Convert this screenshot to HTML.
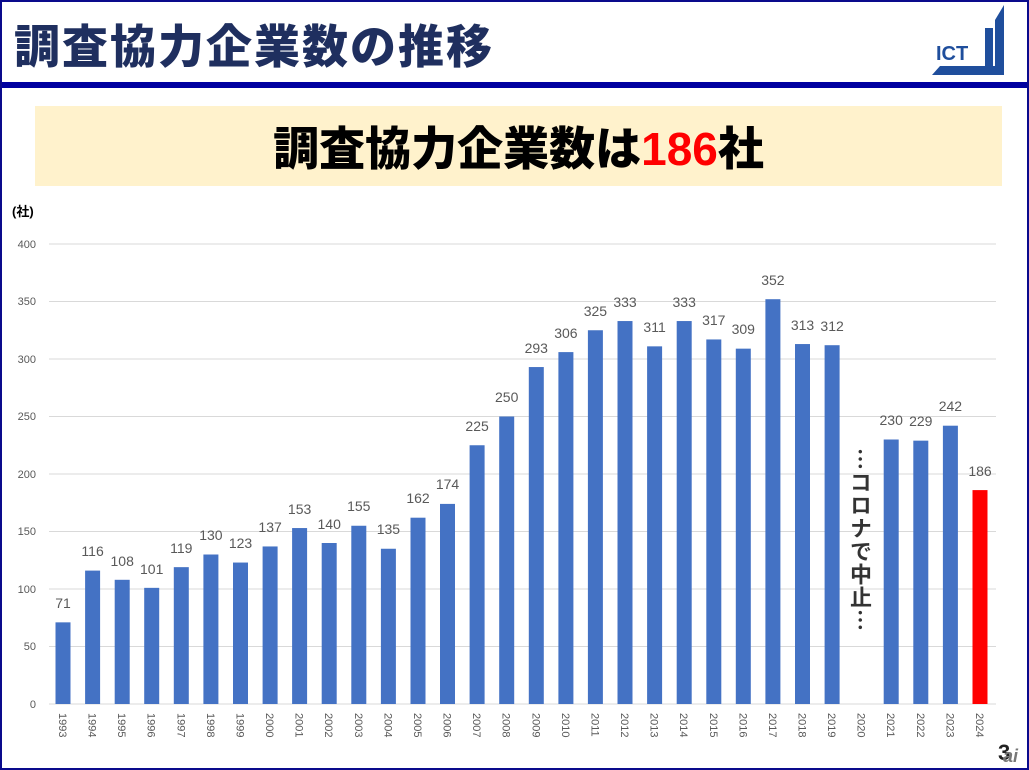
<!DOCTYPE html>
<html><head><meta charset="utf-8"><style>
html,body{margin:0;padding:0;background:#fff}
body{width:1029px;height:770px;position:relative;overflow:hidden;font-family:"Liberation Sans","Noto Sans CJK JP",sans-serif}
.frame{position:absolute;left:0;top:0;width:1025px;height:766px;border:2px solid #0a0a8c}
.title{position:absolute;left:14px;top:12px;font-size:46px;font-weight:900;color:#1f2f5f;letter-spacing:2px;font-family:"Noto Sans CJK JP",sans-serif;line-height:64px}
.rule{position:absolute;left:2px;top:82px;width:1025px;height:6px;background:#0000a0}
.banner{position:absolute;left:35px;top:106px;width:967px;height:80px;background:#fff2cc;text-align:center;line-height:80px;font-size:46px;font-weight:900;color:#000;font-family:"Noto Sans CJK JP",sans-serif}
.banner span{color:#ff0000;font-family:"Liberation Sans",sans-serif;font-weight:bold}
svg{position:absolute;left:0;top:0}
</style></head><body>
<div class="frame"></div>
<div class="title">調査協力企業数の推移</div>
<div class="rule"></div>
<div class="banner">調査協力企業数は<span>186</span>社</div>
<svg width="1029" height="770" font-family="Liberation Sans, Noto Sans CJK JP, sans-serif">
<polygon points="1004,5 1004,75 932,75 940,66 995,66 995,20" fill="#1f4e9c"/>
<rect x="985" y="28" width="8" height="38" fill="#1f4e9c"/>
<text x="936" y="60" font-size="20" font-weight="bold" fill="#1f4e9c">ICT</text>
<text x="12" y="216" font-size="13" font-weight="bold" fill="#000">(社)</text>
<g stroke="#d9d9d9" stroke-width="1">
<line x1="49" x2="996" y1="244" y2="244"/><line x1="49" x2="996" y1="301.5" y2="301.5"/><line x1="49" x2="996" y1="359" y2="359"/><line x1="49" x2="996" y1="416.5" y2="416.5"/><line x1="49" x2="996" y1="474" y2="474"/><line x1="49" x2="996" y1="531.5" y2="531.5"/><line x1="49" x2="996" y1="589" y2="589"/><line x1="49" x2="996" y1="646.5" y2="646.5"/><line x1="49" x2="996" y1="704" y2="704"/>
</g>
<g font-size="11" fill="#595959" text-anchor="end">
<text x="36" y="248">400</text><text x="36" y="305">350</text><text x="36" y="363">300</text><text x="36" y="420">250</text><text x="36" y="478">200</text><text x="36" y="535">150</text><text x="36" y="593">100</text><text x="36" y="650">50</text><text x="36" y="708">0</text>
</g>
<g fill="#4472c4">
<rect x="55.5" y="622.35" width="15" height="81.65"/>
<rect x="85.1" y="570.6" width="15" height="133.4"/>
<rect x="114.7" y="579.8" width="15" height="124.2"/>
<rect x="144.2" y="587.85" width="15" height="116.15"/>
<rect x="173.8" y="567.15" width="15" height="136.85"/>
<rect x="203.4" y="554.5" width="15" height="149.5"/>
<rect x="233" y="562.55" width="15" height="141.45"/>
<rect x="262.6" y="546.45" width="15" height="157.55"/>
<rect x="292.1" y="528.05" width="15" height="175.95"/>
<rect x="321.7" y="543" width="15" height="161"/>
<rect x="351.3" y="525.75" width="15" height="178.25"/>
<rect x="380.9" y="548.75" width="15" height="155.25"/>
<rect x="410.5" y="517.7" width="15" height="186.3"/>
<rect x="440" y="503.9" width="15" height="200.1"/>
<rect x="469.6" y="445.25" width="15" height="258.75"/>
<rect x="499.2" y="416.5" width="15" height="287.5"/>
<rect x="528.8" y="367.05" width="15" height="336.95"/>
<rect x="558.4" y="352.1" width="15" height="351.9"/>
<rect x="587.9" y="330.25" width="15" height="373.75"/>
<rect x="617.5" y="321.05" width="15" height="382.95"/>
<rect x="647.1" y="346.35" width="15" height="357.65"/>
<rect x="676.7" y="321.05" width="15" height="382.95"/>
<rect x="706.3" y="339.45" width="15" height="364.55"/>
<rect x="735.8" y="348.65" width="15" height="355.35"/>
<rect x="765.4" y="299.2" width="15" height="404.8"/>
<rect x="795" y="344.05" width="15" height="359.95"/>
<rect x="824.6" y="345.2" width="15" height="358.8"/>
<rect x="883.7" y="439.5" width="15" height="264.5"/>
<rect x="913.3" y="440.65" width="15" height="263.35"/>
<rect x="942.9" y="425.7" width="15" height="278.3"/>
</g>
<rect x="972.5" y="490.1" width="15" height="213.9" fill="#ff0000"/>
<g font-size="14" fill="#595959" text-anchor="middle">
<text x="63" y="608">71</text><text x="92.6" y="556">116</text><text x="122.2" y="566">108</text><text x="151.7" y="574">101</text><text x="181.3" y="553">119</text><text x="210.9" y="540">130</text><text x="240.5" y="548">123</text><text x="270.1" y="532">137</text><text x="299.6" y="514">153</text><text x="329.2" y="529">140</text><text x="358.8" y="511">155</text><text x="388.4" y="534">135</text><text x="418" y="503">162</text><text x="447.5" y="489">174</text><text x="477.1" y="431">225</text><text x="506.7" y="402">250</text><text x="536.3" y="353">293</text><text x="565.9" y="338">306</text><text x="595.4" y="316">325</text><text x="625" y="307">333</text><text x="654.6" y="332">311</text><text x="684.2" y="307">333</text><text x="713.8" y="325">317</text><text x="743.3" y="334">309</text><text x="772.9" y="285">352</text><text x="802.5" y="330">313</text><text x="832.1" y="331">312</text><text x="891.2" y="425">230</text><text x="920.8" y="426">229</text><text x="950.4" y="411">242</text><text x="980" y="476">186</text>
</g>
<g font-size="11" fill="#595959">
<text transform="translate(59,713) rotate(90)">1993</text><text transform="translate(88.6,713) rotate(90)">1994</text><text transform="translate(118.2,713) rotate(90)">1995</text><text transform="translate(147.7,713) rotate(90)">1996</text><text transform="translate(177.3,713) rotate(90)">1997</text><text transform="translate(206.9,713) rotate(90)">1998</text><text transform="translate(236.5,713) rotate(90)">1999</text><text transform="translate(266.1,713) rotate(90)">2000</text><text transform="translate(295.6,713) rotate(90)">2001</text><text transform="translate(325.2,713) rotate(90)">2002</text><text transform="translate(354.8,713) rotate(90)">2003</text><text transform="translate(384.4,713) rotate(90)">2004</text><text transform="translate(414,713) rotate(90)">2005</text><text transform="translate(443.5,713) rotate(90)">2006</text><text transform="translate(473.1,713) rotate(90)">2007</text><text transform="translate(502.7,713) rotate(90)">2008</text><text transform="translate(532.3,713) rotate(90)">2009</text><text transform="translate(561.9,713) rotate(90)">2010</text><text transform="translate(591.4,713) rotate(90)">2011</text><text transform="translate(621,713) rotate(90)">2012</text><text transform="translate(650.6,713) rotate(90)">2013</text><text transform="translate(680.2,713) rotate(90)">2014</text><text transform="translate(709.8,713) rotate(90)">2015</text><text transform="translate(739.3,713) rotate(90)">2016</text><text transform="translate(768.9,713) rotate(90)">2017</text><text transform="translate(798.5,713) rotate(90)">2018</text><text transform="translate(828.1,713) rotate(90)">2019</text><text transform="translate(857.7,713) rotate(90)">2020</text><text transform="translate(887.2,713) rotate(90)">2021</text><text transform="translate(916.8,713) rotate(90)">2022</text><text transform="translate(946.4,713) rotate(90)">2023</text><text transform="translate(976,713) rotate(90)">2024</text>
</g>
<text x="861" y="448" font-size="22" font-weight="bold" fill="#333" style="writing-mode:vertical-rl;letter-spacing:1px" font-family="Noto Sans CJK JP, sans-serif">…コロナで中止…</text>
<text x="998" y="760" font-size="22" font-weight="bold" fill="#222">3</text>
<text x="1003" y="762" font-size="18" font-style="italic" font-weight="bold" fill="#777">ai</text>
</svg>
</body></html>
